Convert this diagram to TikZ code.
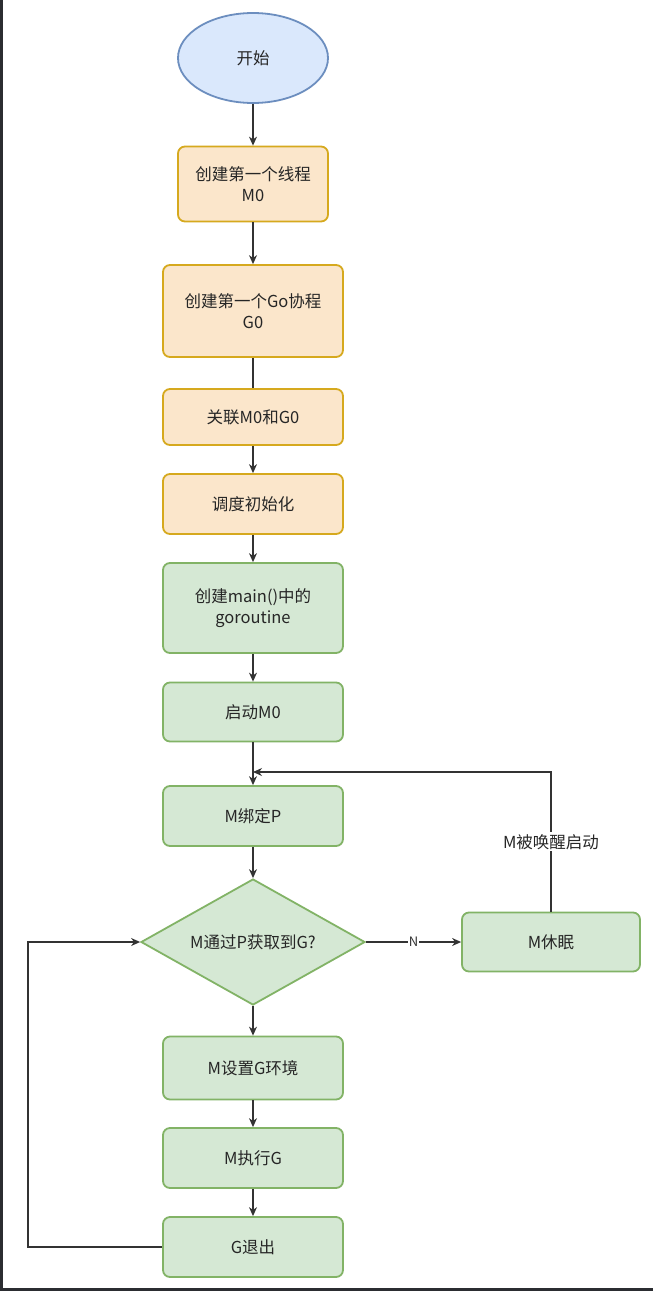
\documentclass[tikz,border=0pt]{standalone}
\usepackage{fontspec}
\setmainfont{Noto Sans CJK SC}
\usetikzlibrary{arrows.meta,shapes.geometric}
\definecolor{startfill}{HTML}{DAE8FC}
\definecolor{startline}{HTML}{6C8EBF}
\definecolor{initfill}{HTML}{FBE6CB}
\definecolor{initline}{HTML}{D6A91E}
\definecolor{runfill}{HTML}{D5E8D4}
\definecolor{runline}{HTML}{82B366}
\definecolor{frame}{HTML}{2B2D31}
\begin{document}
\begin{tikzpicture}[x=1pt,y=-1pt,
 base/.style={draw,line width=1.8pt,text=black!85,font=\fontsize{16.5}{21}\selectfont,align=center,inner sep=2pt},
 ini/.style={base,rectangle,rounded corners=7pt,fill=initfill,draw=initline,minimum width=180pt},
 stp/.style={base,rectangle,rounded corners=7pt,fill=runfill,draw=runline,minimum width=180pt},
 arr/.style={-{Stealth[length=9pt,width=8pt]},line width=1.1pt,black!80},
 lnk/.style={line width=1.1pt,black!80}]
\fill[white] (0,0) rectangle (653,1291);
\useasboundingbox (0,0) rectangle (653,1291);
\fill[frame] (0,0) rectangle (3,1291);
\fill[frame] (0,1288) rectangle (653,1291);
% main column
\node[base,ellipse,fill=startfill,draw=startline,minimum width=150pt,minimum height=90pt] (start) at (253,58) {开始};
\node[ini,minimum width=150pt,minimum height=75pt] (m0) at (253,184) {创建第一个线程\\M0};
\node[ini,minimum height=92pt] (g0) at (253,311) {创建第一个Go协程\\G0};
\node[ini,minimum height=56pt] (link) at (253,417) {关联M0和G0};
\node[ini,minimum height=60pt] (sched) at (253,504) {调度初始化};
\node[stp,minimum height=90pt] (gmain) at (253,608) {创建main()中的\\goroutine};
\node[stp,minimum height=59pt] (boot) at (253,712) {启动M0};
\node[stp,minimum height=60pt] (bind) at (253,816) {M绑定P};
\node[base,diamond,shape aspect=1.76,fill=runfill,draw=runline,inner sep=0pt,minimum width=224pt,minimum height=126pt] (get) at (253,942) {M通过P获取到G?};
\node[stp,minimum width=178pt,minimum height=59pt] (sleep) at (551,942) {M休眠};
\node[stp,minimum height=63pt] (env) at (253,1068) {M设置G环境};
\node[stp,minimum height=60pt] (exec) at (253,1158) {M执行G};
\node[stp,minimum height=60pt] (quit) at (253,1247) {G退出};
\coordinate (join) at (253,772);
\coordinate (back) at (28,942);
% connectors
\draw[lnk] (g0) -- (link);
\foreach \A/\B in {start/m0,m0/g0,link/sched,sched/gmain,gmain/boot,boot/bind,bind/get,get/env,env/exec,exec/quit}
 \draw[arr] (\A) -- (\B);
\draw[arr] (get) -- node[fill=white,inner sep=1pt,font=\fontsize{13}{15}\selectfont,text=black!80] {N} (sleep);
\draw[arr] (sleep.north) -- node[fill=white,inner sep=2pt,font=\fontsize{16.5}{21}\selectfont,text=black!85] {M被唤醒启动} (sleep.north |- join) -- (join);
\draw[arr] (quit.west) -- (quit.west -| back) -- (back) -- (get.west);
\end{tikzpicture}
\end{document}
